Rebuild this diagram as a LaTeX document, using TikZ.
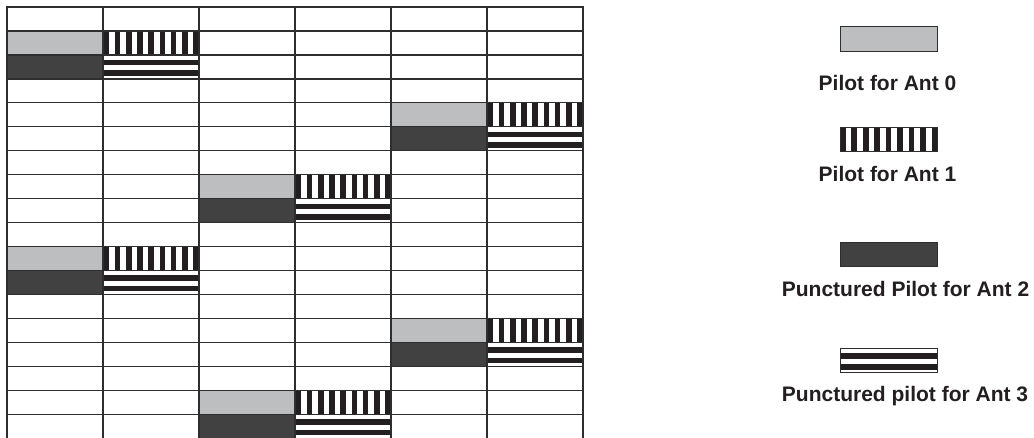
\documentclass[tikz,border=0pt]{standalone}
\usepackage{fontspec}
\setmainfont{Liberation Sans}
\definecolor{pgray}{HTML}{BCBEC0}
\definecolor{pdark}{HTML}{414141}
\definecolor{pblack}{HTML}{231F20}
\definecolor{gridc}{HTML}{2E2E2E}
\tikzset{
  gridline/.style={draw=gridc, line width=1.3pt},
  legbox/.style={draw=gridc, line width=0.8pt},
  legtext/.style={anchor=base, inner sep=0pt, text=pblack, font=\fontsize{21}{25}\selectfont\bfseries},
}
\begin{document}
\begin{tikzpicture}[x=1pt,y=-1pt]
\useasboundingbox (0,0) rectangle (1034,437);
\fill[white] (0,0) rectangle (1034,437);
% pilot blocks
\foreach \c/\r in {0/1,4/4,2/7,0/10,4/13,2/16} {
  \pgfmathsetmacro\xa{7+\c*96}
  \pgfmathsetmacro\ya{7+\r*23.95}
  \fill[pgray] (\xa,\ya) rectangle ++(96,23.95);
  \fill[pdark] (\xa,\ya+23.95) rectangle ++(96,23.95);
  \begin{scope}
    \clip (\xa+96,\ya) rectangle ++(96,23.95);
    \foreach \i in {0,...,8} \fill[pblack] (\xa+96.5+\i*11.2,\ya) rectangle ++(5.6,23.95);
  \end{scope}
  \fill[pblack] (\xa+96,\ya+23.95+5) rectangle ++(96,5.5);
  \fill[pblack] (\xa+96,\ya+23.95+15.5) rectangle ++(96,5.5);
}
% grid
\foreach \i in {0,...,6} \draw[gridline] (7+\i*96,6.35) -- (7+\i*96,442);
\foreach \j in {0,...,17} \draw[gridline] (7,7+\j*23.95) -- (583,7+\j*23.95);
% legend
\fill[pgray] (840,26.7) rectangle (937,51);
\draw[legbox] (840,26.7) rectangle (937,51);
\node[legtext] (t0) at (887.5,90.5) {Pilot for Ant 0};
\begin{scope}
  \clip (840,127.3) rectangle (937,151.7);
  \foreach \i in {0,...,8} \fill[pblack] (840+\i*11.45,127.3) rectangle ++(5.6,24.4);
\end{scope}
\draw[legbox] (840,127.3) rectangle (937,151.7);
\node[legtext] (t1) at (887.5,181.5) {Pilot for Ant 1};
\fill[pdark] (840,242.3) rectangle (937,266.7);
\draw[legbox] (840,242.3) rectangle (937,266.7);
\node[legtext] (t2) at (905.5,296) {Punctured Pilot for Ant 2};
\fill[pblack] (840,353.3) rectangle (937,358.5);
\fill[pblack] (840,364.3) rectangle (937,369.8);
\draw[legbox] (840,348.3) rectangle (937,372.3);
\node[legtext] (t3) at (905,401) {Punctured pilot for Ant 3};
\end{tikzpicture}
\end{document}
